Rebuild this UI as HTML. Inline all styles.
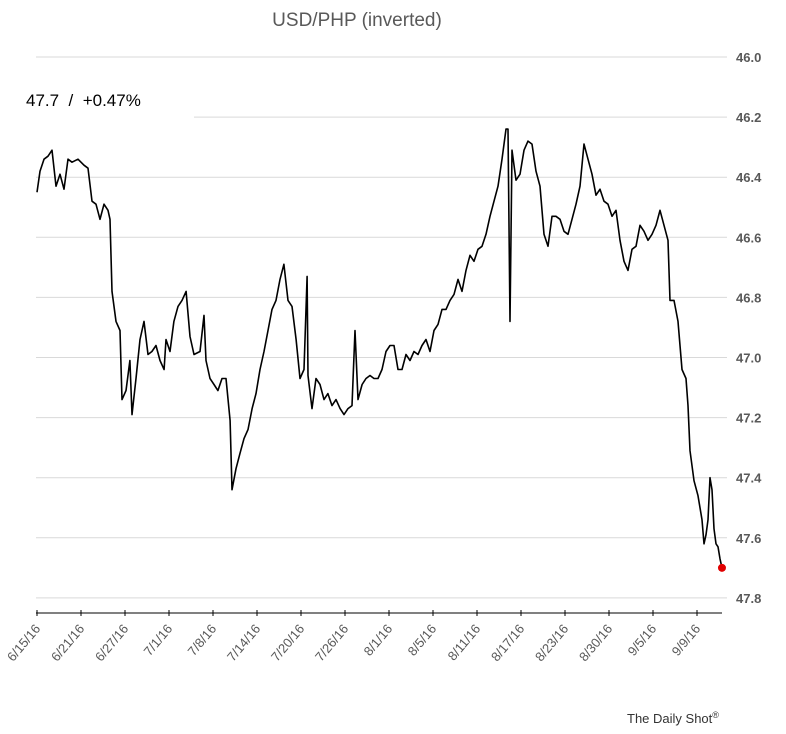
<!DOCTYPE html>
<html><head><meta charset="utf-8"><style>
body{margin:0;background:#fff;font-family:"Liberation Sans",sans-serif;}
svg{display:block}
</style></head><body>
<svg id="chart" width="786" height="734" viewBox="0 0 786 734">
<text x="357" y="26" text-anchor="middle" font-size="19" fill="#595959">USD/PHP (inverted)</text>
<g id="grid"></g>
<g id="yaxis"></g>
<g id="xaxis"></g>
<rect x="0" y="80" width="194" height="42" fill="#fff"/>
<text x="26" y="106" font-size="17" fill="#000" style="white-space:pre">47.7  /  +0.47%</text>
<g id="series"></g>
<text x="627" y="723" font-size="13" fill="#333">The Daily Shot<tspan font-size="9" dy="-5">®</tspan></text>
</svg>
<script>
const tickLabels=["6/15/16","6/21/16","6/27/16","7/1/16","7/8/16","7/14/16","7/20/16","7/26/16","8/1/16","8/5/16","8/11/16","8/17/16","8/23/16","8/30/16","9/5/16","9/9/16"];
const tickDays=[0,4,8,12,16,20,24,28,32,36,40,44,48,52,56,60];
const yTicks=[46.0,46.2,46.4,46.6,46.8,47.0,47.2,47.4,47.6,47.8];
const days=[0,0.27,0.64,1.0,1.36,1.73,2.09,2.45,2.82,3.18,3.73,4.27,4.64,5.0,5.36,5.73,6.09,6.45,6.64,6.82,7.18,7.55,7.73,8.09,8.45,8.64,9.0,9.36,9.73,10.09,10.45,10.82,11.18,11.55,11.73,12.09,12.45,12.82,13.18,13.55,13.91,14.27,14.82,15.18,15.36,15.73,16.09,16.45,16.82,17.18,17.55,17.73,18.09,18.45,18.82,19.18,19.55,19.91,20.27,20.64,21.0,21.36,21.73,22.09,22.45,22.82,23.18,23.55,23.91,24.27,24.55,24.64,25.0,25.36,25.73,26.09,26.45,26.82,27.18,27.55,27.91,28.27,28.64,28.91,29.18,29.55,29.91,30.27,30.64,31.0,31.36,31.73,32.09,32.45,32.82,33.18,33.55,33.91,34.27,34.64,35.0,35.36,35.73,36.09,36.45,36.82,37.18,37.55,37.91,38.27,38.64,39.0,39.36,39.73,40.09,40.45,40.82,41.18,41.55,41.91,42.27,42.64,42.82,43.0,43.18,43.55,43.91,44.27,44.64,45.0,45.36,45.73,46.09,46.45,46.82,47.18,47.55,47.91,48.27,48.64,49.0,49.36,49.73,50.09,50.45,50.82,51.18,51.55,51.91,52.27,52.64,53.0,53.36,53.73,54.09,54.45,54.82,55.18,55.55,55.91,56.27,56.64,57.0,57.36,57.55,57.91,58.27,58.64,59.0,59.18,59.36,59.73,60.09,60.45,60.64,60.82,61.0,61.18,61.36,61.55,61.73,61.91,62.09,62.27];
const values=[46.45,46.38,46.34,46.33,46.31,46.43,46.39,46.44,46.34,46.35,46.34,46.36,46.37,46.48,46.49,46.54,46.49,46.51,46.54,46.78,46.88,46.91,47.14,47.11,47.01,47.19,47.07,46.94,46.88,46.99,46.98,46.96,47.01,47.04,46.94,46.98,46.88,46.83,46.81,46.78,46.93,46.99,46.98,46.86,47.01,47.07,47.09,47.11,47.07,47.07,47.21,47.44,47.37,47.32,47.27,47.24,47.17,47.12,47.04,46.98,46.91,46.84,46.81,46.74,46.69,46.81,46.83,46.94,47.07,47.04,46.73,47.06,47.17,47.07,47.09,47.14,47.12,47.16,47.14,47.17,47.19,47.17,47.16,46.91,47.14,47.09,47.07,47.06,47.07,47.07,47.04,46.98,46.96,46.96,47.04,47.04,46.99,47.01,46.98,46.99,46.96,46.94,46.98,46.91,46.89,46.84,46.84,46.81,46.79,46.74,46.78,46.71,46.66,46.68,46.64,46.63,46.59,46.53,46.48,46.43,46.34,46.24,46.24,46.88,46.31,46.41,46.39,46.31,46.28,46.29,46.38,46.43,46.59,46.63,46.53,46.53,46.54,46.58,46.59,46.54,46.49,46.43,46.29,46.34,46.39,46.46,46.44,46.48,46.49,46.53,46.51,46.61,46.68,46.71,46.64,46.63,46.56,46.58,46.61,46.59,46.56,46.51,46.56,46.61,46.81,46.81,46.88,47.04,47.07,47.16,47.31,47.41,47.46,47.54,47.62,47.59,47.54,47.40,47.44,47.57,47.62,47.63,47.67,47.70];

const NS="http://www.w3.org/2000/svg";
const X0=37,DX=11,Y0=57,YS=300.5,XL=36,XR=727,AXY=613;
function xs(d){return X0+d*DX;}
function ys(v){return Y0+(v-46)*YS;}
function mk(t,a,p){const e=document.createElementNS(NS,t);for(const k in a)e.setAttribute(k,a[k]);p.appendChild(e);return e;}
const grid=document.getElementById('grid'),ya=document.getElementById('yaxis'),xa=document.getElementById('xaxis'),ser=document.getElementById('series');
yTicks.forEach(v=>{
  const l=mk('line',{x1:XL,x2:XR,y1:ys(v),y2:ys(v),stroke:'#d9d9d9','stroke-width':1},grid);
  
  
  const t=mk('text',{x:736,y:ys(v)+5,'font-size':13,'font-weight':'bold',fill:'#595959'},ya);
  t.textContent=v.toFixed(1);
  
  
});
const al=mk('line',{x1:XL,x2:722,y1:AXY,y2:AXY,stroke:'#000','stroke-width':1},xa);


tickDays.forEach((d,i)=>{
  const x=xs(d);
  const tk=mk('line',{x1:x,x2:x,y1:AXY-3,y2:AXY+3,stroke:'#000'},xa);
  
  
  const t=mk('text',{x:x+4,y:AXY+16,'font-size':13,fill:'#595959','text-anchor':'end',transform:`rotate(-50 ${x+4} ${AXY+16})`},xa);
  t.textContent=tickLabels[i];
  
  
});
const pts=days.map((d,i)=>xs(d).toFixed(1)+','+ys(values[i]).toFixed(1)).join(' ');
const pl=mk('polyline',{points:pts,fill:'none',stroke:'#000','stroke-width':1.6,'stroke-linejoin':'round'},ser);


const n=days.length-1;
const dot=mk('circle',{cx:xs(days[n]),cy:ys(values[n]),r:4,fill:'#e00000'},ser);


</script>
</body></html>
